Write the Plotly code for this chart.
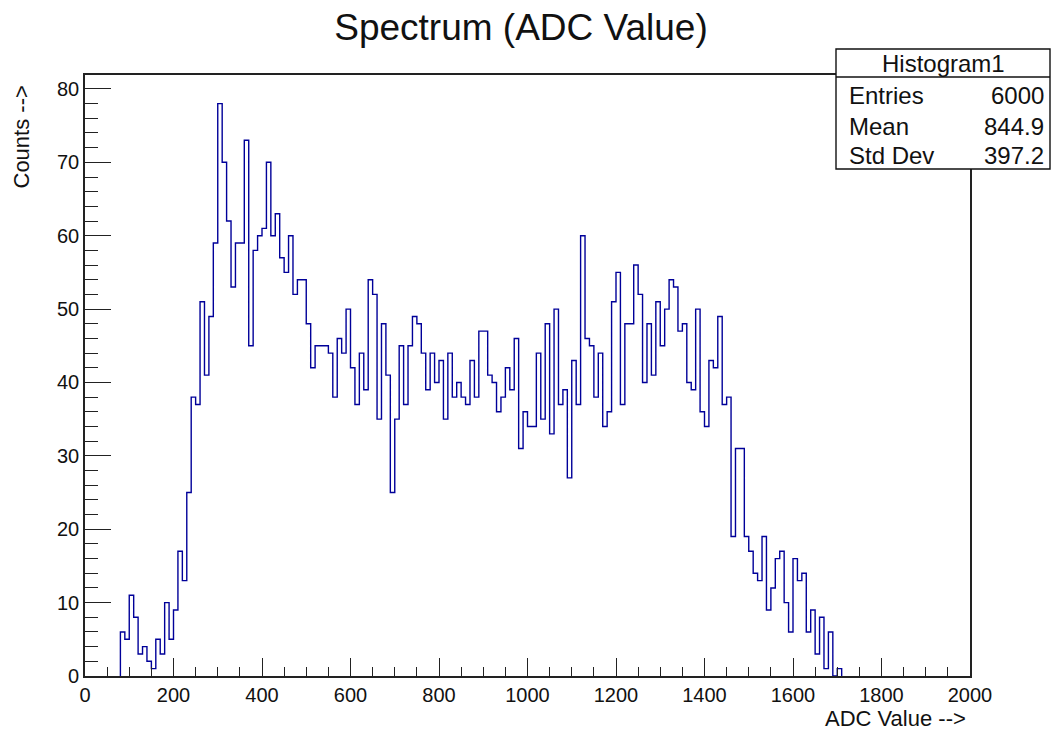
import plotly.graph_objects as go

# ---- data ----
bin_width = 10
first_edge = 80
counts = [
    6, 5, 11, 8, 3, 4, 2, 1, 5, 3,
    10, 5, 9, 17, 13, 25, 38, 37, 51, 41,
    49, 59, 78, 70, 62, 53, 59, 59, 73, 45,
    58, 60, 61, 70, 60, 63, 57, 55, 60, 52,
    54, 54, 48, 42, 45, 45, 45, 44, 38, 46,
    44, 50, 42, 37, 44, 39, 54, 52, 35, 48,
    41, 25, 35, 45, 37, 45, 49, 48, 44, 39,
    44, 40, 43, 35, 44, 38, 40, 38, 37, 43,
    38, 47, 47, 41, 40, 36, 38, 42, 39, 46,
    31, 36, 34, 34, 44, 35, 48, 33, 50, 37,
    39, 27, 43, 37, 60, 46, 45, 38, 44, 34,
    36, 51, 55, 37, 48, 48, 56, 52, 40, 48,
    41, 51, 45, 50, 54, 53, 47, 48, 40, 39,
    50, 36, 34, 43, 42, 49, 37, 38, 19, 31,
    31, 19, 17, 14, 13, 19, 9, 12, 16, 17,
    10, 6, 16, 13, 14, 6, 9, 3, 8, 1,
    6, 0, 1,
]
bin_lower_edges = [first_edge + i * bin_width for i in range(len(counts))]
last_edge = bin_lower_edges[-1] + bin_width

stats_labels = ["Entries", "Mean", "Std Dev"]
stats_values = ["6000", "844.9", "397.2"]
hist_name = "Histogram1"
x_range = [0, 2000]
y_range = [0, 81.9]

# ---- figure ----
W, H = 1056, 732
L, R, T, B = 85, 86, 75, 56
pw, ph = W - L - R, H - T - B

def px(xp):
    return (xp - L) / pw

def py(yp):
    return (H - B - yp) / ph

FONT = "Liberation Sans, Arial, Helvetica, sans-serif"
LINE_C = "#000099"

xs = [first_edge] + bin_lower_edges + [last_edge]
ys = [0] + counts + [0]

fig = go.Figure()
fig.add_trace(go.Scatter(
    x=xs, y=ys, mode="lines", line=dict(color=LINE_C, width=1.4, shape="hv"),
    hoverinfo="skip", showlegend=False,
))

axis_common = dict(
    showgrid=False, zeroline=False, showline=True, linecolor="#222222", linewidth=1.6,
    mirror=True, ticks="inside", tickcolor="#222222", tickwidth=1.3,
    tickfont=dict(family=FONT, size=20, color="#111111"),
)

fig.update_layout(
    width=W, height=H,
    margin=dict(l=L, r=R, t=T, b=B, autoexpand=False),
    paper_bgcolor="white", plot_bgcolor="white",
    title=dict(text="Spectrum (ADC Value)", x=(521 / W), xanchor="center",
               y=1 - 27 / H, yanchor="middle",
               font=dict(family=FONT, size=37, color="#111111")),
    xaxis=dict(range=x_range, dtick=200, tick0=0, ticklen=18,
               minor=dict(ticks="inside", dtick=50, ticklen=9, tickcolor="#222222", tickwidth=1.3),
               **axis_common),
    yaxis=dict(range=y_range, dtick=10, tick0=0, ticklen=26,
               minor=dict(ticks="inside", dtick=2, ticklen=13, tickcolor="#222222", tickwidth=1.3),
               **axis_common),
)

# axis titles
fig.add_annotation(text="ADC Value -->", xref="paper", yref="paper",
                   x=px(968), y=py(718), xanchor="right", yanchor="middle",
                   showarrow=False, font=dict(family=FONT, size=22, color="#111111"))
fig.add_annotation(text="Counts -->", xref="paper", yref="paper",
                   x=px(21), y=py(84), xanchor="center", yanchor="top", textangle=-90,
                   showarrow=False, font=dict(family=FONT, size=22, color="#111111"))

# stats box
bx0, bx1, by0, by1, bdiv = 836, 1050, 49, 169, 77
fig.add_shape(type="rect", xref="paper", yref="paper",
              x0=px(bx0), x1=px(bx1), y0=py(by1), y1=py(by0),
              line=dict(color="#111111", width=1.4), fillcolor="white", layer="above")
fig.add_shape(type="line", xref="paper", yref="paper",
              x0=px(bx0), x1=px(bx1), y0=py(bdiv), y1=py(bdiv),
              line=dict(color="#111111", width=1.4), layer="above")
fig.add_annotation(text=hist_name, xref="paper", yref="paper",
                   x=px((bx0 + bx1) / 2), y=py(63), xanchor="center", yanchor="middle",
                   showarrow=False, font=dict(family=FONT, size=24, color="#111111"))
row_y = [96, 126, 155]
for lab, val, yy in zip(stats_labels, stats_values, row_y):
    fig.add_annotation(text=lab, xref="paper", yref="paper", x=px(847), y=py(yy),
                       xanchor="left", yanchor="middle", showarrow=False,
                       font=dict(family=FONT, size=24, color="#111111"))
    fig.add_annotation(text=val, xref="paper", yref="paper", x=px(1046), y=py(yy),
                       xanchor="right", yanchor="middle", showarrow=False,
                       font=dict(family=FONT, size=24, color="#111111"))

fig.write_html("out.html")
